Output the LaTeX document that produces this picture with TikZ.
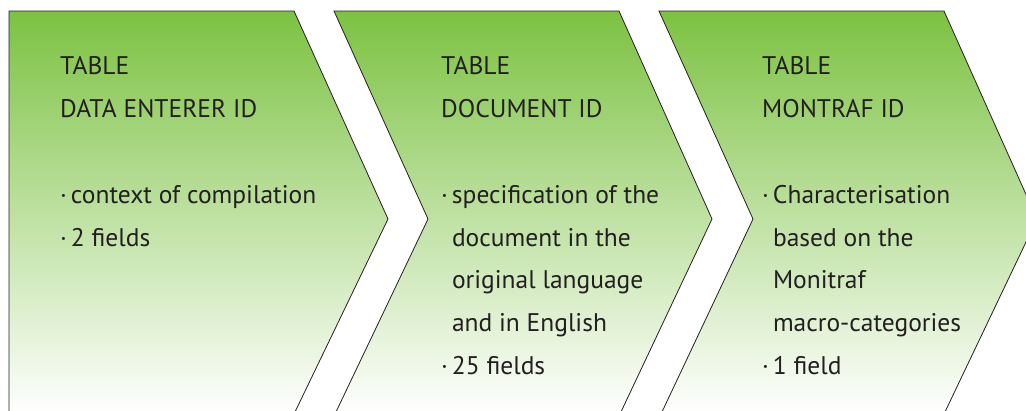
\documentclass[tikz,border=0pt]{standalone}
\usepackage{fontspec}
\setmainfont{PT Sans}
\definecolor{leaf}{HTML}{7CC242}
\definecolor{ink}{HTML}{231F20}
\newcommand{\bul}{\textperiodcentered\kern4pt}
\newcommand{\ind}{\hphantom{\textperiodcentered\kern4pt}}
\begin{document}
\begin{tikzpicture}[x=1pt,y=-1pt,
  chevron/.style={draw=ink, line width=0.8pt, line join=miter,
    top color=leaf, bottom color=white},
  stepbody/.style={anchor=north west, inner sep=0pt, align=left, text=ink,
    font=\fontsize{25.5}{42.8}\selectfont}]
\useasboundingbox (0,0) rectangle (1026,410);
\clip (0,0) rectangle (1026,410);

% three process chevrons
\path[chevron] (9,11) -- (294,11) -- (388,219) -- (294,414) -- (9,414) -- cycle;
\path[chevron] (334,11) -- (619,11) -- (712,219) -- (620,414) -- (335,414) -- (428,219) -- cycle;
\path[chevron] (659,11) -- (944,11) -- (1037,219) -- (944,414) -- (661,414) -- (753,219) -- cycle;

% descriptions
\node[stepbody] (t1) at (60,56.5) {TABLE\\DATA ENTERER ID\\ \\
  \bul context of compilation\\\bul 2 fields};
\node[stepbody] (t2) at (441,56.5) {TABLE\\DOCUMENT ID\\ \\
  \bul specification of the\\\ind document in the\\\ind original language\\\ind and in English\\\bul 25 fields};
\node[stepbody] (t3) at (762,56.5) {TABLE\\MONTRAF ID\\ \\
  \bul Characterisation\\\ind based on the\\\ind Monitraf\\\ind macro-categories\\\bul 1 field};
\end{tikzpicture}
\end{document}
